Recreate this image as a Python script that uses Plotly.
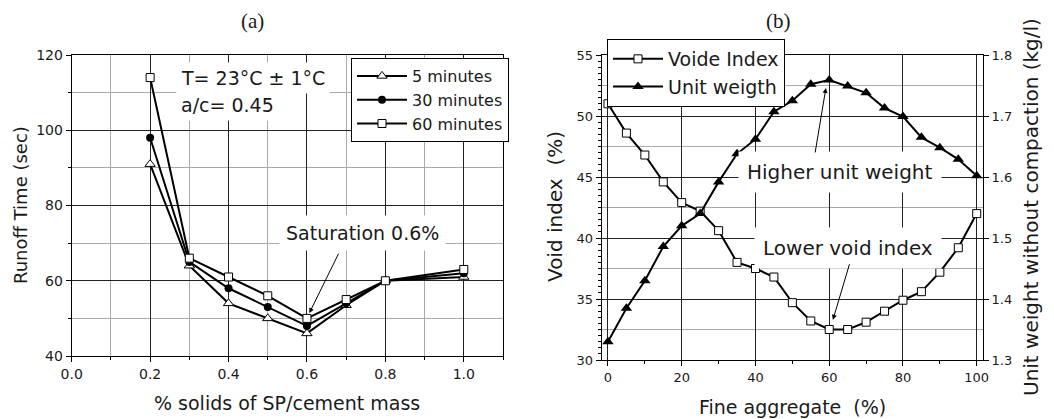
import plotly.graph_objects as go

# ---------------- data ----------------
sp_dose = [0.2, 0.3, 0.4, 0.5, 0.6, 0.7, 0.8, 1.0]
runoff_5 = [91, 64, 54, 50, 46, 53.5, 60, 61]
runoff_30 = [98, 65, 58, 53, 48, 54, 60, 62]
runoff_60 = [114, 66, 61, 56, 50, 55, 60, 63]

fine_agg = [0, 5, 10, 15, 20, 25, 30, 35, 40, 45, 50, 55, 60, 65, 70, 75, 80, 85, 90, 95, 100]
void_index = [51.0, 48.6, 46.8, 44.6, 42.9, 42.2, 40.6, 38.0, 37.5, 36.8, 34.7, 33.2,
              32.5, 32.5, 33.1, 34.0, 34.9, 35.6, 37.2, 39.2, 42.0]
unit_weight = [1.33, 1.385, 1.43, 1.486, 1.52, 1.54, 1.592, 1.638, 1.662, 1.707, 1.725, 1.752,
               1.759, 1.749, 1.738, 1.713, 1.699, 1.665, 1.648, 1.629, 1.602]

W, H = 1054, 419
SANS = "DejaVu Sans"
SERIF = "Liberation Serif"
INK = "#1a1a1a"

def px(x):
    return x / W

def py(y):
    return 1 - y / H

fig = go.Figure()

# panel (a)
fig.add_trace(go.Scatter(x=sp_dose, y=runoff_5, name="5 minutes", mode="lines+markers",
                         line=dict(color="black", width=2),
                         marker=dict(symbol="triangle-up", size=9, color="white",
                                     line=dict(color="black", width=1)),
                         xaxis="x", yaxis="y", legend="legend"))
fig.add_trace(go.Scatter(x=sp_dose, y=runoff_30, name="30 minutes", mode="lines+markers",
                         line=dict(color="black", width=2),
                         marker=dict(symbol="circle", size=8, color="black"),
                         xaxis="x", yaxis="y", legend="legend"))
fig.add_trace(go.Scatter(x=sp_dose, y=runoff_60, name="60 minutes", mode="lines+markers",
                         line=dict(color="black", width=2),
                         marker=dict(symbol="square", size=8, color="white",
                                     line=dict(color="black", width=1)),
                         xaxis="x", yaxis="y", legend="legend"))

# panel (b)
fig.add_trace(go.Scatter(x=fine_agg, y=void_index, name="Voide Index", mode="lines+markers",
                         line=dict(color="black", width=2),
                         marker=dict(symbol="square", size=8, color="white",
                                     line=dict(color="black", width=1)),
                         xaxis="x2", yaxis="y2", legend="legend2"))
fig.add_trace(go.Scatter(x=fine_agg, y=unit_weight, name="Unit weigth", mode="lines+markers",
                         line=dict(color="black", width=2),
                         marker=dict(symbol="triangle-up", size=10, color="black"),
                         xaxis="x2", yaxis="y3", legend="legend2"))

tickfont_a = dict(family=SANS, size=14, color=INK)
tickfont_b = dict(family=SANS, size=13, color=INK)

ax_common = dict(showline=True, linecolor="black", linewidth=1, ticks="outside",
                 ticklen=5, tickcolor="black", zeroline=False, automargin=False)

fig.update_layout(
    template="none",
    width=W, height=H, margin=dict(l=0, r=0, t=0, b=0, pad=0, autoexpand=False),
    paper_bgcolor="white", plot_bgcolor="white",
    showlegend=True,
    xaxis=dict(domain=[px(71.7), px(503)], range=[0, 1.1], dtick=0.2, tick0=0,
               tickformat=".1f", mirror=True, showgrid=True, gridcolor="#222", gridwidth=1,
               minor=dict(dtick=0.1, tick0=0, ticks="outside", ticklen=3, tickcolor="black",
                          showgrid=True, gridcolor="#aaaaaa"),
               tickfont=tickfont_a, anchor="y", **ax_common),
    yaxis=dict(domain=[py(356), py(55)], range=[40, 120], dtick=20, tick0=40,
               mirror=True, showgrid=True, gridcolor="#222", gridwidth=1,
               minor=dict(dtick=10, tick0=40, ticks="outside", ticklen=3, tickcolor="black",
                          showgrid=True, gridcolor="#aaaaaa"),
               tickfont=tickfont_a, anchor="x", **ax_common),
    xaxis2=dict(domain=[px(601.7), px(983)], range=[-1.7, 101.7], dtick=20, tick0=0,
                mirror=True, showgrid=True, gridcolor="#222", gridwidth=1,
                minor=dict(dtick=10, tick0=0, ticks="outside", ticklen=3, tickcolor="black",
                           showgrid=False),
                tickfont=tickfont_b, anchor="y2", **ax_common),
    yaxis2=dict(domain=[py(360), py(55)], range=[30, 55], dtick=5, tick0=30,
                showgrid=True, gridcolor="#222", gridwidth=1,
                minor=dict(dtick=0.5, tick0=30, ticks="outside", ticklen=3, tickcolor="black",
                           showgrid=False),
                tickfont=tickfont_b, anchor="x2", **ax_common),
    yaxis3=dict(range=[1.3, 1.8], dtick=0.1, tick0=1.3, tickformat=".1f",
                overlaying="y2", side="right", anchor="x2",
                showgrid=False,
                minor=dict(dtick=0.05, tick0=1.3, ticks="", showgrid=True, gridcolor="#aaaaaa"),
                tickfont=tickfont_b, **ax_common),
    legend=dict(x=px(351), y=py(58), xanchor="left", yanchor="top",
                bgcolor="white", bordercolor="black", borderwidth=1,
                font=dict(family=SANS, size=16, color=INK),
                tracegroupgap=0, itemwidth=50),
    legend2=dict(x=px(607), y=py(39), xanchor="left", yanchor="top",
                 bgcolor="white", bordercolor="black", borderwidth=1,
                 font=dict(family=SANS, size=19, color=INK),
                 tracegroupgap=0, itemwidth=50),
)


def label(text, x, y, size, family=SANS, angle=0, xanchor="center", bg=None, pad=1):
    d = dict(text=text, x=px(x), y=py(y), xref="paper", yref="paper",
             xanchor=xanchor, yanchor="middle", showarrow=False, textangle=angle,
             borderpad=pad, font=dict(family=family, size=size, color=INK))
    if bg:
        d["bgcolor"] = bg
    return d


ann = []
# panel titles
ann.append(label("(a)", 252, 21, 21, family=SERIF))
ann.append(label("(b)", 778, 21, 21, family=SERIF))
# axis titles
ann.append(label("% solids of SP/cement mass", 287, 403, 19))
ann.append(label("Runoff Time (sec)", 20, 205, 18, angle=-90))
ann.append(label("Fine aggregate  (%)", 792, 407, 19))
ann.append(label("Void index  (%)", 555, 207, 20, angle=-90))
ann.append(label("Unit weight without compaction (kg/l)", 1031, 207, 20, angle=-90))
# panel (a) notes
ann.append(label("T= 23°C ± 1°C", 176, 78, 19, xanchor="left", bg="white", pad=4))
ann.append(label("a/c= 0.45", 176, 105, 19, xanchor="left", bg="white", pad=4))
ann.append(label("Saturation 0.6%", 362, 233, 19, bg="white", pad=6))
ann.append(dict(text="", x=0.606, y=51.4, xref="x", yref="y", ax=30, ay=-61,
                showarrow=True, arrowhead=2, arrowsize=1, arrowwidth=1, arrowcolor="black"))
# panel (b) notes
ann.append(label("Higher unit weight", 840, 172, 20, bg="white", pad=8))
ann.append(dict(text="", x=59.1, y=1.746, xref="x2", yref="y3", ax=-11, ay=66,
                showarrow=True, arrowhead=2, arrowsize=1, arrowwidth=1, arrowcolor="black"))
ann.append(label("Lower void index", 848, 248, 20, bg="white", pad=8))
ann.append(dict(text="", x=61, y=33.3, xref="x2", yref="y2", ax=17, ay=-57,
                showarrow=True, arrowhead=2, arrowsize=1, arrowwidth=1, arrowcolor="black"))

fig.update_layout(annotations=ann)
fig.write_html("out.html")
